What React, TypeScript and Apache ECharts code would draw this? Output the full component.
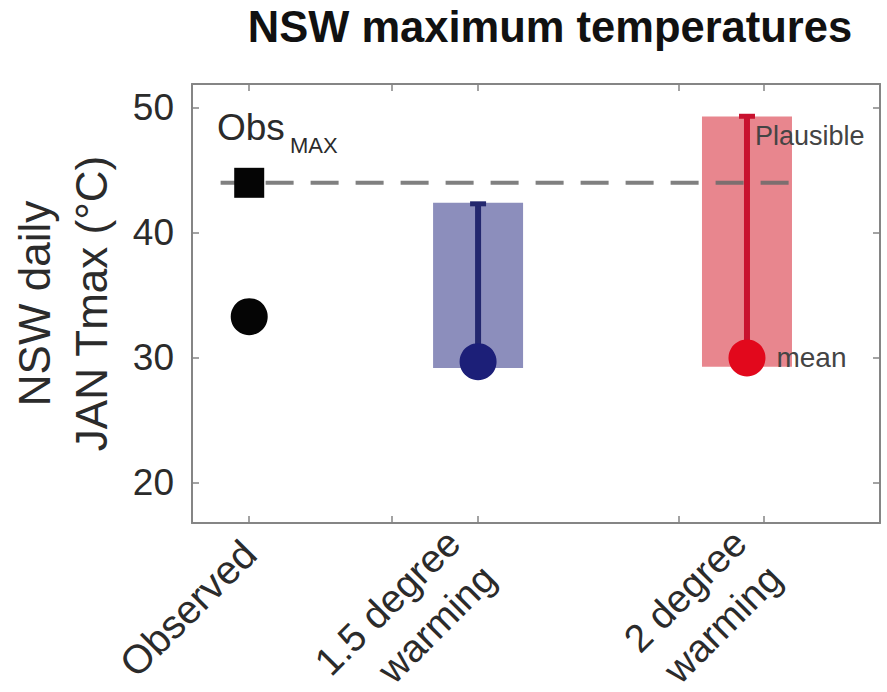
import React, { useEffect, useRef } from "react";
import * as echarts from "echarts";

// ---- data ----
const xTickValues = [1, 2, 2.6, 4, 4.6];
const categoryTicks = [1, 2.6, 4.6];
const categories = ["Observed", "1.5 degree\nwarming", "2 degree\nwarming"];
const yTickValues = [20, 30, 40, 50];

const observedX = 1;
const observedMean = 33.3;
const observedMax = 44.0;

const scenarioNames = ["1.5 degree warming", "2 degree warming"];
const scenarioX = [2.6, 4.48];
const scenarioMean = [29.7, 30.0];
const plausibleLow = [29.2, 29.3];
const plausibleHigh = [42.4, 49.3];
const whiskerTop = [42.4, 49.4];

const obsMaxLineX = [0.8, 4.8];

const FONT = "'Liberation Sans', Arial, Helvetica, sans-serif";
const AXIS_GRAY = "#858585";
const TEXT = "#2b2b2b";
const barColors = ["#8c8ebc", "#e8868e"];
const lineColors = ["#23276e", "#c8122f"];
const dotColors = ["#1c1f78", "#e2081c"];

export default function App() {
  const ref = useRef<HTMLDivElement>(null);

  useEffect(() => {
    if (!ref.current) return;
    const chart = echarts.init(ref.current, undefined, { renderer: "svg" });

    const labelFor = (v: number) => {
      const i = categoryTicks.findIndex((t) => Math.abs(t - v) < 1e-6);
      if (i < 0) return "";
      const lines = categories[i].split("\n");
      if (lines.length === 1) return `{s|${lines[0]}}`;
      return lines.map((l) => `{m|${l}}`).join("\n");
    };

    const rangeData = scenarioX.map((x, i) => [x, plausibleLow[i], plausibleHigh[i]]);
    const whiskerData = scenarioX.map((x, i) => [x, scenarioMean[i], whiskerTop[i]]);

    const option: any = {
      animation: false,
      backgroundColor: "#ffffff",
      textStyle: { fontFamily: FONT },
      grid: {
        left: 192,
        right: 7,
        top: 84,
        bottom: 169,
        containLabel: false,
        outerBoundsMode: "none",
        show: false,
      },
      xAxis: [
        {
          type: "value",
          min: 0.6,
          max: 5.41,
          position: "bottom",
          axisLine: { show: true, onZero: false, lineStyle: { color: AXIS_GRAY, width: 2 } },
          axisTick: {
            show: true,
            inside: true,
            length: 7,
            customValues: xTickValues,
            lineStyle: { color: AXIS_GRAY, width: 1.5 },
          },
          axisLabel: {
            show: true,
            customValues: categoryTicks,
            formatter: (v: number) => labelFor(v),
            rotate: 45,
            fontSize: 39,
            lineHeight: 50,
            margin: 24,
            color: TEXT,
            fontFamily: FONT,
            rich: {
              s: { fontSize: 40, lineHeight: 50, color: TEXT, fontFamily: FONT },
              m: {
                fontSize: 39,
                lineHeight: 50,
                color: TEXT,
                fontFamily: FONT,
                padding: [0, 10, 0, 0],
              },
            },
          },
          splitLine: { show: false },
        },
        {
          type: "value",
          min: 0.6,
          max: 5.41,
          position: "top",
          axisLine: { show: true, onZero: false, lineStyle: { color: AXIS_GRAY, width: 2 } },
          axisTick: {
            show: true,
            inside: true,
            length: 7,
            customValues: xTickValues,
            lineStyle: { color: AXIS_GRAY, width: 1.5 },
          },
          axisLabel: { show: false },
          splitLine: { show: false },
        },
      ],
      yAxis: [
        {
          type: "value",
          min: 16.8,
          max: 51.9,
          position: "left",
          name: "NSW daily\nJAN Tmax (°C)",
          nameLocation: "middle",
          nameGap: 72,
          nameTextStyle: { fontSize: 44, lineHeight: 57, color: TEXT, fontFamily: FONT },
          axisLine: { show: true, onZero: false, lineStyle: { color: AXIS_GRAY, width: 2 } },
          axisTick: {
            show: true,
            inside: true,
            length: 7,
            customValues: yTickValues,
            lineStyle: { color: AXIS_GRAY, width: 1.5 },
          },
          axisLabel: {
            show: true,
            customValues: yTickValues,
            fontSize: 37,
            margin: 18,
            color: TEXT,
            fontFamily: FONT,
          },
          splitLine: { show: false },
        },
        {
          type: "value",
          min: 16.8,
          max: 51.9,
          position: "right",
          axisLine: { show: true, onZero: false, lineStyle: { color: AXIS_GRAY, width: 2 } },
          axisTick: {
            show: true,
            inside: true,
            length: 7,
            customValues: yTickValues,
            lineStyle: { color: AXIS_GRAY, width: 1.5 },
          },
          axisLabel: { show: false },
          splitLine: { show: false },
        },
      ],
      series: [
        {
          name: "Plausible range",
          type: "custom",
          xAxisIndex: 0,
          yAxisIndex: 0,
          z: 1,
          data: rangeData,
          renderItem: (params: any, api: any) => {
            const x = api.value(0);
            const lo = api.coord([x, api.value(1)]);
            const hi = api.coord([x, api.value(2)]);
            const w = 90;
            return {
              type: "rect",
              shape: { x: hi[0] - w / 2, y: hi[1], width: w, height: lo[1] - hi[1] },
              style: { fill: barColors[params.dataIndex] },
            };
          },
        },
        {
          name: "Observed max",
          type: "line",
          xAxisIndex: 0,
          yAxisIndex: 0,
          z: 2,
          symbol: "none",
          data: obsMaxLineX.map((x) => [x, observedMax]),
          lineStyle: { color: "#6a6a6a", width: 4, type: [28, 17], opacity: 0.85 },
        },
        {
          name: "Whiskers",
          type: "custom",
          xAxisIndex: 0,
          yAxisIndex: 0,
          z: 3,
          data: whiskerData,
          renderItem: (params: any, api: any) => {
            const x = api.value(0);
            const m = api.coord([x, api.value(1)]);
            const t = api.coord([x, api.value(2)]);
            const c = lineColors[params.dataIndex];
            const children: any[] = [
              {
                type: "line",
                shape: { x1: m[0], y1: m[1], x2: t[0], y2: t[1] },
                style: { stroke: c, lineWidth: 6 },
              },
              {
                type: "line",
                shape: { x1: t[0] - 8, y1: t[1] + 1, x2: t[0] + 8, y2: t[1] + 1 },
                style: { stroke: c, lineWidth: 5 },
              },
            ];
            if (params.dataIndex === 1) {
              children.push({
                type: "text",
                x: t[0] + 8,
                y: t[1] + 21,
                style: {
                  text: "Plausible",
                  fontSize: 27,
                  fontFamily: FONT,
                  fill: "#444444",
                  align: "left",
                  verticalAlign: "middle",
                },
              });
            }
            return { type: "group", children };
          },
        },
        {
          name: "Observed",
          type: "scatter",
          xAxisIndex: 0,
          yAxisIndex: 0,
          z: 4,
          symbol: "circle",
          symbolSize: 37,
          itemStyle: { color: "#050505", opacity: 1 },
          data: [[observedX, observedMean]],
        },
        {
          name: "Observed maximum",
          type: "scatter",
          xAxisIndex: 0,
          yAxisIndex: 0,
          z: 4,
          symbol: "rect",
          symbolSize: 30,
          itemStyle: { color: "#050505", opacity: 1 },
          data: [[observedX, observedMax]],
        },
        {
          name: "Scenario mean",
          type: "scatter",
          xAxisIndex: 0,
          yAxisIndex: 0,
          z: 5,
          symbol: "circle",
          symbolSize: 37,
          data: scenarioX.map((x, i) => ({
            name: scenarioNames[i],
            value: [x, scenarioMean[i]],
            itemStyle: { color: dotColors[i], opacity: 1 },
            label:
              i === 1
                ? {
                    show: true,
                    position: "right",
                    distance: 11,
                    formatter: "mean",
                    fontSize: 28,
                    color: "#444444",
                    fontFamily: FONT,
                  }
                : { show: false },
          })),
        },
      ],
      graphic: [
        {
          type: "text",
          x: 550,
          y: 27,
          style: {
            text: "NSW maximum temperatures",
            fontSize: 43.5,
            fontWeight: "bold",
            fontFamily: FONT,
            fill: "#111111",
            align: "center",
            verticalAlign: "middle",
          },
        },
        {
          type: "text",
          x: 217,
          y: 127,
          style: {
            text: "Obs",
            fontSize: 37,
            fontFamily: FONT,
            fill: TEXT,
            align: "left",
            verticalAlign: "middle",
          },
        },
        {
          type: "text",
          x: 290,
          y: 145,
          style: {
            text: "MAX",
            fontSize: 22,
            fontFamily: FONT,
            fill: TEXT,
            align: "left",
            verticalAlign: "middle",
          },
        },
      ],
    };

    chart.setOption(option);
    return () => chart.dispose();
  }, []);

  return (
    <div
      ref={ref}
      style={{ position: "fixed", left: 0, top: 0, width: 887, height: 692, background: "#fff" }}
    />
  );
}
